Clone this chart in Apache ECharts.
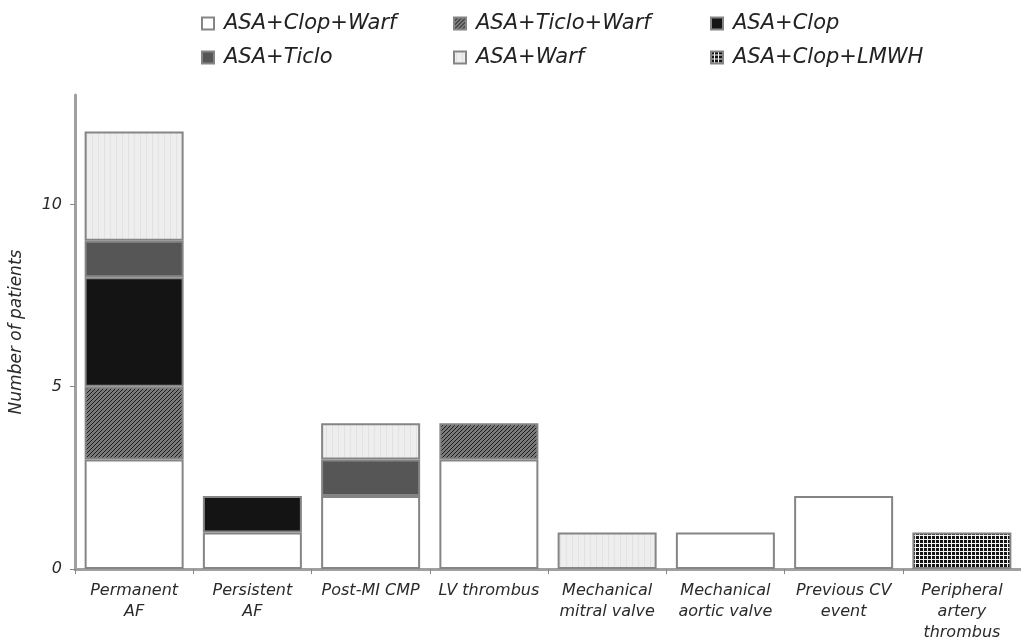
<!DOCTYPE html>
<html>
<head>
<meta charset="utf-8">
<script src="https://cdn.jsdelivr.net/npm/echarts@6/dist/echarts.min.js"></script>
<style>
  html, body { margin: 0; padding: 0; background: #fff; }
  #chart { width: 1021px; height: 643px; }
</style>
</head>
<body>
<div id="chart"></div>
<script>
// categories on the x axis
const categories = [
    'Permanent\nAF', 'Persistent\nAF', 'Post-MI CMP', 'LV thrombus',
    'Mechanical\nmitral valve', 'Mechanical\naortic valve', 'Previous CV\nevent',
    'Peripheral\nartery\nthrombus'
];

// treatment groups, bottom of the stack first
const seriesNames = ['ASA+Clop+Warf', 'ASA+Ticlo+Warf', 'ASA+Clop', 'ASA+Ticlo', 'ASA+Warf', 'ASA+Clop+LMWH'];

// number of patients per category
const clopWarf  = [3, 1, 2, 3, 0, 1, 2, 0];
const ticloWarf = [2, 0, 0, 1, 0, 0, 0, 0];
const clop      = [3, 1, 0, 0, 0, 0, 0, 0];
const ticlo     = [1, 0, 1, 0, 0, 0, 0, 0];
const warf      = [3, 0, 1, 0, 1, 0, 0, 0];
const clopLmwh  = [0, 0, 0, 0, 0, 0, 0, 1];

const yTicks = [0, 5, 10];

const FONT = '"DejaVu Sans", Verdana, sans-serif';

// small canvas patterns to imitate the print fills
function makePattern(w, h, draw) {
    const c = document.createElement('canvas');
    c.width = w; c.height = h;
    draw(c.getContext('2d'));
    return { image: c, repeat: 'repeat' };
}

const hatchFill = makePattern(4, 4, ctx => {
    ctx.fillStyle = '#7a7a7a';
    ctx.fillRect(0, 0, 4, 4);
    ctx.fillStyle = '#1c1c1c';
    for (let i = 0; i < 4; i++) ctx.fillRect(3 - i, i, 1, 1);
});
const lightFill = makePattern(6, 4, ctx => {
    ctx.fillStyle = '#eeeeee';
    ctx.fillRect(0, 0, 6, 4);
    ctx.fillStyle = '#e2e2e2';
    ctx.fillRect(2, 0, 1, 4);
});
const gridFill = makePattern(4, 4, ctx => {
    ctx.fillStyle = '#151515';
    ctx.fillRect(0, 0, 4, 4);
    ctx.fillStyle = '#f4f4f4';
    ctx.fillRect(3, 0, 1, 4);
    ctx.fillRect(0, 3, 4, 1);
});

const fills = ['#ffffff', hatchFill, '#141414', '#565656', lightFill, gridFill];
const values = [clopWarf, ticloWarf, clop, ticlo, warf, clopLmwh];

// legend positions (two rows, three columns)
const legendPos = [
    { left: 201, top: 13 }, { left: 453, top: 13 }, { left: 710, top: 13 },
    { left: 201, top: 47 }, { left: 453, top: 47 }, { left: 710, top: 47 }
];

const chart = echarts.init(document.getElementById('chart'));

const option = {
    animation: false,
    backgroundColor: '#fff',
    legend: seriesNames.map((name, i) => ({
        data: [name],
        left: legendPos[i].left,
        top: legendPos[i].top,
        padding: 0,
        icon: 'rect',
        itemWidth: 12,
        itemHeight: 12,
        selectedMode: false,
        textStyle: {
            fontFamily: FONT,
            fontStyle: 'italic',
            fontSize: 21,
            color: '#222',
            padding: [0, 0, 0, 5]
        }
    })),
    grid: {
        left: 72,
        top: 95,
        width: 956,
        bottom: 71,
        containLabel: false
    },
    xAxis: {
        type: 'category',
        data: categories,
        axisLine: { lineStyle: { color: '#a0a0a0', width: 3 } },
        axisTick: { show: true, length: 5, lineStyle: { color: '#888', width: 1 } },
        axisLabel: {
            interval: 0,
            margin: 11,
            fontFamily: FONT,
            fontStyle: 'italic',
            fontSize: 16,
            lineHeight: 21,
            color: '#2a2a2a'
        }
    },
    yAxis: {
        type: 'value',
        min: 0,
        max: 13,
        name: 'Number of patients',
        nameLocation: 'middle',
        nameGap: 50,
        nameTextStyle: {
            fontFamily: FONT,
            fontStyle: 'italic',
            fontSize: 17,
            color: '#2a2a2a'
        },
        splitLine: { show: false },
        axisLine: { show: true, lineStyle: { color: '#a0a0a0', width: 3 } },
        axisTick: { show: true, length: 5, customValues: yTicks, lineStyle: { color: '#888', width: 1 } },
        axisLabel: {
            customValues: yTicks,
            margin: 13,
            fontFamily: FONT,
            fontStyle: 'italic',
            fontSize: 16,
            color: '#2a2a2a'
        }
    },
    series: seriesNames.map((name, i) => ({
        name: name,
        type: 'bar',
        stack: 'total',
        barWidth: 99,
        // zero counts are left out so no empty outline is drawn
        data: values[i].map(v => (v === 0 ? '-' : v)),
        itemStyle: {
            color: fills[i],
            borderColor: '#858585',
            borderWidth: 2
        }
    }))
};

chart.setOption(option);
window.addEventListener('resize', () => chart.resize());
</script>
</body>
</html>
